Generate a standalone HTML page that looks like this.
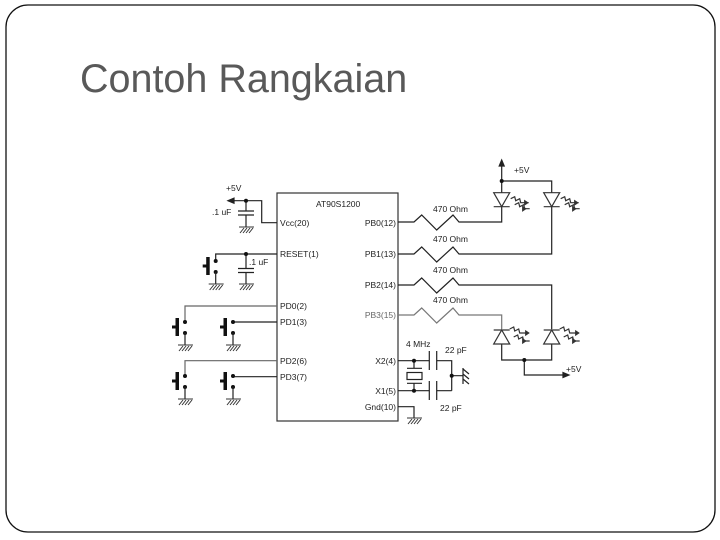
<!DOCTYPE html>
<html><head><meta charset="utf-8"><style>
html,body{margin:0;padding:0;background:#fff;width:720px;height:540px;overflow:hidden}
svg{display:block}
text{font-family:"Liberation Sans",sans-serif}
</style></head><body>
<svg width="720" height="540" viewBox="0 0 720 540" xmlns="http://www.w3.org/2000/svg">
<defs>
<g id="gnd" stroke="#333" stroke-width="1" fill="none">
<path d="M-7 0H8M-6 6L-2 1M-3 6L1 1M0 6L4 1M3 6L7 1"/>
</g>
<g id="sw">
<rect x="-9.5" y="-4" width="3.5" height="18" fill="#111"/>
<rect x="-13" y="3.5" width="4" height="3" fill="#111"/>
<circle cx="0" cy="0" r="2" fill="#111"/>
<circle cx="0" cy="11" r="2" fill="#111"/>
<path d="M0 11V23" stroke="#222" stroke-width="1.2"/>
<use href="#gnd" x="0" y="23"/>
</g>
<g id="ledd" fill="none" stroke="#333" stroke-width="1.2">
<path d="M-8 0H8L0 14Z"/><path d="M-8 14H8"/>
<path d="M9 6l4 -2l1 4l4 -2l1 4h8M13 12l4 -2l1 4l4 -2l1 4h5"/>
<path d="M26 10l-3 -2v4zM24 16l-3 -2v4z" fill="#333"/>
</g>
<g id="ledu" fill="none" stroke="#333" stroke-width="1.2">
<path d="M-8 15H8L0 1Z"/><path d="M-8 1H8"/>
<path d="M8 0l4 -2l1 4l4 -2l1 4h9M12 8l4 -2l1 4l4 -2l1 4h6"/>
<path d="M27 4l-3 -2v4zM24 12l-3 -2v4z" fill="#333"/>
</g>
</defs>

<rect x="6" y="5" width="709" height="527" rx="22" ry="22" fill="none" stroke="#111" stroke-width="1.3"/>
<text x="80" y="92" font-size="39.5" fill="#595959">Contoh Rangkaian</text>

<g stroke="#222" stroke-width="1.2" fill="none">
<rect x="277" y="193" width="121" height="228" stroke="#333"/>
<path d="M277 222.7H261.7V200.7H228"/>
<path d="M228 200.7l6 -2.5v5z" fill="#222"/>
<path d="M246 200.7V211M238 211H254M238 215H254M246 215V227"/>
<path d="M277 254H215.7V261"/>
<path d="M246 254V268.5M238 268.5H254M238 272.5H254M246 272.5V284"/>
<path d="M277 306H185V322" stroke="#666"/>
<path d="M277 322H233"/>
<path d="M277 360.7H185V376" stroke="#666"/>
<path d="M277 376.7H233"/>
<path d="M398 406.7H414V418"/>
<path d="M398 222H414L421.7 215L436.7 230L453 215L459 222H501.7V206.7"/>
<path d="M398 254H414L421.7 247L436.7 262L453 247L459 254H551.7V206.7"/>
<path d="M398 285H414L421.7 278L436.7 293L453 278L459 285H551.7V329"/>
<path d="M398 315H414L421.7 308L436.7 323L453 308L459 315H501.7V329" stroke="#777"/>
<path d="M501.7 192.7V164M501.7 181H551.7V192.7"/>
<path d="M501.7 160l-2.5 6h5z" fill="#222"/>
<path d="M501.7 344V360H551.7V344M524.3 360V375H565"/>
<path d="M569 375l-6 -2.5v5z" fill="#222"/>
<path d="M398 360.7H429.3M436.7 360.7H451.7V390.7M398 390.7H429.3M436.7 390.7H451.7"/>
<path d="M429.3 351V370M436.7 351V370M429.3 381V400M436.7 381V400"/>
<path d="M451.7 375.7H463M463 368V384M463 369l6 5M463 374l6 5M463 379l6 5"/>
<path d="M414 360.7V368.3M407 368.3H422M407 383.3H422M414 383.3V390.7"/>
<rect x="407" y="372.5" width="15" height="7"/>
</g>
<g fill="#111">
<circle cx="246" cy="200.7" r="2"/><circle cx="246" cy="254" r="2"/>
<circle cx="501.7" cy="181" r="2"/><circle cx="524.3" cy="360" r="2"/>
<circle cx="414" cy="360.7" r="2"/><circle cx="414" cy="390.7" r="2"/>
<circle cx="451.7" cy="375.7" r="2"/>
</g>
<use href="#gnd" x="246" y="227"/>
<use href="#gnd" x="246" y="284"/>
<use href="#gnd" x="414" y="418"/>
<use href="#sw" x="215.7" y="261"/>
<use href="#sw" x="185" y="322"/>
<use href="#sw" x="233" y="322"/>
<use href="#sw" x="185" y="376"/>
<use href="#sw" x="233" y="376"/>
<use href="#ledd" x="501.7" y="192.7"/>
<use href="#ledd" x="551.7" y="192.7"/>
<use href="#ledu" x="501.7" y="329"/>
<use href="#ledu" x="551.7" y="329"/>

<g font-size="8.5" fill="#222">
<text x="316" y="207">AT90S1200</text>
<text x="226" y="191">+5V</text>
<text x="212" y="215">.1 uF</text>
<text x="249" y="265">.1 uF</text>
<text x="280" y="226">Vcc(20)</text>
<text x="280" y="257">RESET(1)</text>
<text x="280" y="309">PD0(2)</text>
<text x="280" y="325">PD1(3)</text>
<text x="280" y="364">PD2(6)</text>
<text x="280" y="380">PD3(7)</text>
<text x="396" y="226" text-anchor="end">PB0(12)</text>
<text x="396" y="257" text-anchor="end">PB1(13)</text>
<text x="396" y="288" text-anchor="end">PB2(14)</text>
<text x="396" y="318" text-anchor="end" fill="#666">PB3(15)</text>
<text x="396" y="364" text-anchor="end">X2(4)</text>
<text x="396" y="394" text-anchor="end">X1(5)</text>
<text x="396" y="410" text-anchor="end">Gnd(10)</text>
<text x="433" y="212">470 Ohm</text>
<text x="433" y="242">470 Ohm</text>
<text x="433" y="273">470 Ohm</text>
<text x="433" y="303">470 Ohm</text>
<text x="514" y="173">+5V</text>
<text x="566" y="372">+5V</text>
<text x="406" y="347">4 MHz</text>
<text x="445" y="353">22 pF</text>
<text x="440" y="411">22 pF</text>
</g>
</svg>
</body></html>
